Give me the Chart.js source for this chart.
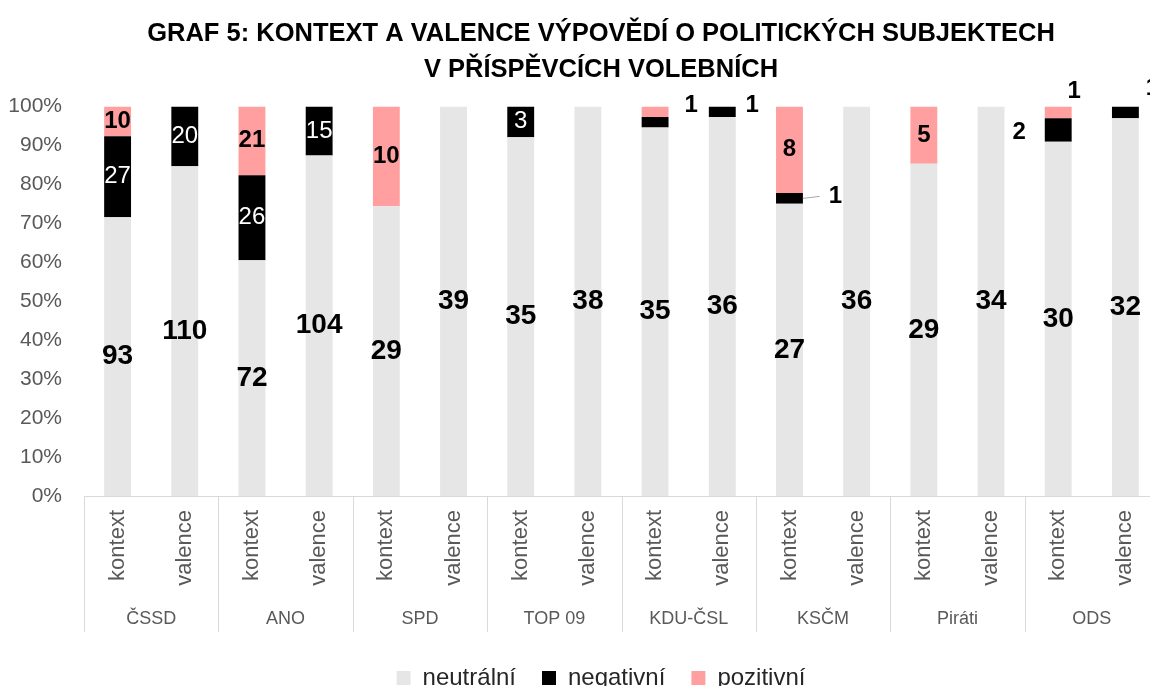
<!DOCTYPE html>
<html>
<head>
<meta charset="utf-8">
<script src="https://cdn.jsdelivr.net/npm/chart.js@4"></script>
<style>
  html, body { margin: 0; padding: 0; overflow: hidden; background: #fff; }
  #wrap { position: relative; width: 1202px; height: 700px; }
</style>
</head>
<body>
<div id="wrap"><canvas id="chart"></canvas></div>
<script>
// kategorie
const parties = ['ČSSD', 'ANO', 'SPD', 'TOP 09', 'KDU-ČSL', 'KSČM', 'Piráti', 'ODS'];
const subLabels = ['kontext', 'valence'];

// počty výpovědí: pro každý subjekt kontext, valence
const neutral  = [93, 110, 72, 104, 29, 39, 35, 38, 35, 36, 27, 36, 29, 34, 30, 32];
const negative = [27, 20, 26, 15, 0, 0, 3, 0, 1, 1, 1, 0, 0, 0, 2, 1];
const positive = [10, 0, 21, 0, 10, 0, 0, 0, 1, 0, 8, 0, 5, 0, 1, 0];

const seriesNames = ['neutrální', 'negativní', 'pozitivní'];
const seriesColors = ['#e6e6e6', '#000000', '#ff9f9f'];
const yTickValues = [0, 10, 20, 30, 40, 50, 60, 70, 80, 90, 100];

// popisky malých hodnot posunuté mimo sloupec (dataset-index: [dx, dy, vodicí čára])
const labelMoves = {
  '1-8': null,
  '2-8': [36, -6],
  '1-9': [30, -6],
  '1-10': [46, -2, true],
  '1-14': [-39, 2],
  '2-14': [16, -21],
  '1-15': [27, -24]
};

const FONT = "'Liberation Sans', Arial, sans-serif";
Chart.defaults.font.family = FONT;

const xLabels = parties.flatMap(() => subLabels);
const raw = [neutral, negative, positive];
const totals = neutral.map((v, i) => v + negative[i] + positive[i]);
const toPct = arr => arr.map((v, i) => v / totals[i] * 100);

// popisky hodnot
const valueLabels = {
  id: 'valueLabels',
  afterDatasetsDraw(chart) {
    const ctx = chart.ctx;
    ctx.save();
    ctx.textAlign = 'center';
    ctx.textBaseline = 'middle';
    raw.forEach((arr, d) => {
      const meta = chart.getDatasetMeta(d);
      meta.data.forEach((bar, i) => {
        const v = arr[i];
        if (!v) return;
        const move = labelMoves[d + '-' + i];
        if (move === null) return;
        const cx = bar.x;
        const cy = (bar.y + bar.base) / 2;
        if (move) {
          const lx = cx + move[0], ly = cy + move[1];
          if (move[2]) {
            ctx.strokeStyle = '#a6a6a6';
            ctx.lineWidth = 1;
            ctx.beginPath();
            ctx.moveTo(cx + bar.width / 2, cy);
            ctx.lineTo(lx - 16, ly);
            ctx.stroke();
          }
          ctx.fillStyle = '#000';
          ctx.font = 'bold 24px ' + FONT;
          ctx.fillText(v, lx, ly);
          return;
        }
        if (d === 0) {
          ctx.fillStyle = '#000';
          ctx.font = 'bold 28px ' + FONT;
        } else if (d === 1) {
          ctx.fillStyle = '#fff';
          ctx.font = '24px ' + FONT;
        } else {
          ctx.fillStyle = '#000';
          ctx.font = 'bold 24px ' + FONT;
        }
        ctx.fillText(v, cx, cy);
      });
    });
    ctx.restore();
  }
};

// druhá úroveň osy x: názvy subjektů a oddělovače
const groupAxis = {
  id: 'groupAxis',
  afterDraw(chart) {
    const x = chart.scales.x;
    const ctx = chart.ctx;
    const top = chart.chartArea.bottom;
    const step = (x.right - x.left) / parties.length;
    ctx.save();
    ctx.strokeStyle = '#d9d9d9';
    ctx.lineWidth = 1;
    for (let g = 0; g <= parties.length; g++) {
      const px = Math.round(x.left + g * step) + 0.5;
      ctx.beginPath();
      ctx.moveTo(px, top);
      ctx.lineTo(px, top + 136);
      ctx.stroke();
    }
    ctx.fillStyle = '#595959';
    ctx.font = '18px ' + FONT;
    ctx.textAlign = 'center';
    ctx.textBaseline = 'middle';
    parties.forEach((p, g) => {
      ctx.fillText(p, x.left + (g + 0.5) * step, top + 123);
    });
    ctx.restore();
  }
};

new Chart(document.getElementById('chart'), {
  type: 'bar',
  data: {
    labels: xLabels,
    datasets: raw.map((arr, d) => ({
      label: seriesNames[d],
      data: toPct(arr),
      backgroundColor: seriesColors[d],
      borderWidth: 0,
      barPercentage: 0.4,
      categoryPercentage: 1
    }))
  },
  options: {
    responsive: true,
    maintainAspectRatio: false,
    animation: false,
    layout: { padding: 0 },
    plugins: {
      title: {
        display: true,
        text: ['GRAF 5: KONTEXT A VALENCE VÝPOVĚDÍ O POLITICKÝCH SUBJEKTECH', 'V PŘÍSPĚVCÍCH VOLEBNÍCH'],
        color: '#000',
        font: { size: 25.5, weight: 'bold', lineHeight: 1.4 },
        padding: { top: 16, bottom: 19 }
      },
      legend: {
        position: 'bottom',
        labels: {
          boxWidth: 14,
          boxHeight: 14,
          padding: 26,
          color: '#262626',
          font: { size: 24 }
        }
      },
      tooltip: { enabled: false }
    },
    scales: {
      x: {
        stacked: true,
        grid: { display: false, drawTicks: false },
        border: { display: true, color: '#d9d9d9', width: 1 },
        ticks: {
          color: '#595959',
          font: { size: 22 },
          minRotation: 90,
          maxRotation: 90,
          padding: 14,
          autoSkip: false
        },
        afterFit(scale) { scale.height = 144; }
      },
      y: {
        stacked: true,
        min: 0,
        max: 100,
        grid: { display: false, drawTicks: false },
        border: { display: false },
        afterBuildTicks(scale) { scale.ticks = yTickValues.map(v => ({ value: v })); },
        ticks: {
          color: '#595959',
          font: { size: 21 },
          padding: 22,
          callback: v => v + '%'
        },
        afterFit(scale) { scale.width = 84; }
      },
      // prázdný pravý okraj zákresové oblasti
      yRight: {
        position: 'right',
        grid: { display: false, drawTicks: false },
        border: { display: false },
        ticks: { display: false },
        afterFit(scale) { scale.width = 43; }
      }
    }
  },
  plugins: [valueLabels, groupAxis]
});
</script>
</body>
</html>
